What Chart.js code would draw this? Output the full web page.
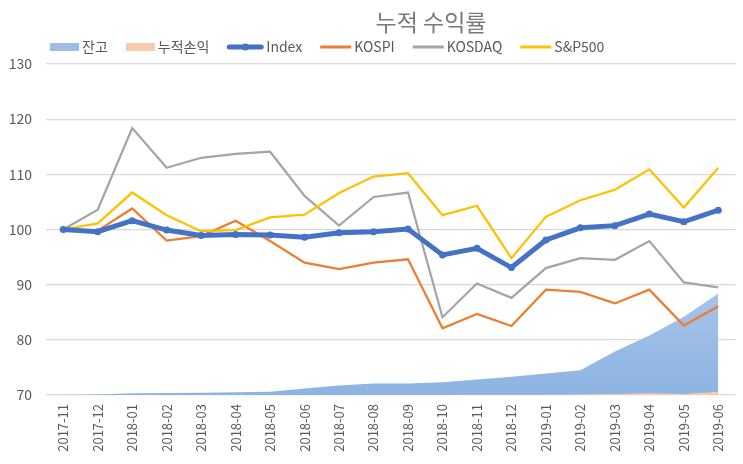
<!DOCTYPE html>
<html>
<head>
<meta charset="utf-8">
<script src="https://cdn.jsdelivr.net/npm/chart.js@4/dist/chart.umd.min.js"></script>
<style>
  html, body { margin: 0; padding: 0; background: #fff; }
  #wrap { width: 743px; height: 464px; }
</style>
</head>
<body>
<div id="wrap"><canvas id="c" width="743" height="464"></canvas></div>
<script>
const categories = ['2017-11','2017-12','2018-01','2018-02','2018-03','2018-04','2018-05','2018-06','2018-07','2018-08','2018-09','2018-10','2018-11','2018-12','2019-01','2019-02','2019-03','2019-04','2019-05','2019-06'];
const indexValues  = [100, 99.6, 101.6, 99.9, 98.9, 99.1, 99.0, 98.6, 99.4, 99.6, 100.1, 95.4, 96.6, 93.1, 98.1, 100.3, 100.7, 102.8, 101.4, 103.5];
const kospiValues  = [100, 99.8, 103.8, 98.0, 98.8, 101.6, 97.9, 94.0, 92.8, 94.0, 94.6, 82.1, 84.7, 82.5, 89.1, 88.7, 86.6, 89.1, 82.6, 86.1];
const kosdaqValues = [100, 103.6, 118.4, 111.2, 113.0, 113.7, 114.1, 106.1, 100.7, 105.9, 106.7, 84.1, 90.2, 87.6, 93.0, 94.8, 94.5, 97.9, 90.4, 89.5];
const sp500Values  = [100, 101.1, 106.7, 102.6, 99.7, 99.9, 102.2, 102.7, 106.6, 109.6, 110.2, 102.6, 104.3, 94.8, 102.3, 105.3, 107.2, 110.9, 104.0, 111.2];
const balanceValues = [70.0, 70.1, 70.3, 70.35, 70.4, 70.5, 70.6, 71.2, 71.7, 72.1, 72.1, 72.3, 72.8, 73.3, 73.9, 74.5, 77.9, 80.8, 84.2, 88.4];
const pnlValues     = [70.0, 70.0, 70.0, 70.0, 70.0, 70.0, 70.0, 70.0, 70.0, 70.0, 70.0, 70.0, 70.05, 70.05, 70.05, 70.1, 70.2, 70.3, 70.2, 70.6];
const yTicks = [70, 80, 90, 100, 110, 120, 130];
const titleText = '누적 수익률';

const FONT = "'Noto Sans CJK KR', 'Noto Sans', sans-serif";
const GREY = '#595959';

// legend icon kinds per dataset
const legendKinds = ['rect', 'rect', 'thick', 'line', 'line', 'line'];

const titleLegendPlugin = {
  id: 'titleLegend',
  afterDraw(chart) {
    const ctx = chart.ctx;
    ctx.save();
    // title
    ctx.font = '23px ' + FONT;
    ctx.fillStyle = '#7a7a7a';
    ctx.textAlign = 'center';
    ctx.textBaseline = 'middle';
    ctx.fillText(titleText, 431, 22);
    // legend
    ctx.font = '14px ' + FONT;
    ctx.textAlign = 'left';
    ctx.textBaseline = 'middle';
    const cy = 47;
    let x = 50;
    chart.data.datasets.forEach((ds, i) => {
      const kind = legendKinds[i];
      const color = i === 0 ? '#9dbde6' : (ds.borderColor === 'rgba(0,0,0,0)' ? ds.backgroundColor : ds.borderColor);
      if (kind === 'rect') {
        ctx.fillStyle = color;
        ctx.fillRect(x, cy - 4, 29, 8);
      } else if (kind === 'thick') {
        ctx.strokeStyle = color;
        ctx.lineWidth = 5;
        ctx.lineCap = 'round';
        ctx.beginPath(); ctx.moveTo(x + 2, cy); ctx.lineTo(x + 34, cy); ctx.stroke();
        ctx.fillStyle = color;
        ctx.beginPath(); ctx.arc(x + 18, cy, 3.5, 0, Math.PI * 2); ctx.fill();
      } else {
        ctx.strokeStyle = color;
        ctx.lineWidth = 3;
        ctx.lineCap = 'butt';
        ctx.beginPath(); ctx.moveTo(x, cy); ctx.lineTo(x + 31, cy); ctx.stroke();
      }
      const iconW = kind === 'rect' ? 29 : (kind === 'thick' ? 36 : 31);
      x += iconW + 3;
      ctx.fillStyle = GREY;
      ctx.fillText(ds.label, x, cy);
      x += ctx.measureText(ds.label).width + 18;
    });
    ctx.restore();
  }
};

new Chart(document.getElementById('c'), {
  type: 'line',
  data: {
    labels: categories,
    datasets: [
      {
        label: '잔고', data: balanceValues, order: 10,
        fill: 'start', borderWidth: 0, pointRadius: 0, tension: 0,
        borderColor: 'rgba(0,0,0,0)',
        backgroundColor: (c) => {
          const ca = c.chart.chartArea;
          if (!ca) return '#9dbde6';
          const gr = c.chart.ctx.createLinearGradient(0, ca.top + ca.height * 0.6, 0, ca.bottom);
          gr.addColorStop(0, '#adc8ea');
          gr.addColorStop(1, '#8db4e2');
          return gr;
        }
      },
      {
        label: '누적손익', data: pnlValues, order: 9,
        fill: 'start', borderWidth: 0, pointRadius: 0, tension: 0,
        borderColor: 'rgba(0,0,0,0)', backgroundColor: '#f8cbad'
      },
      {
        label: 'Index', data: indexValues, order: 1,
        borderColor: '#4472C4', backgroundColor: '#4472C4', borderWidth: 5,
        pointRadius: 3.5, pointBorderWidth: 0, pointBackgroundColor: '#4472C4',
        fill: false, tension: 0
      },
      {
        label: 'KOSPI', data: kospiValues, order: 4,
        borderColor: '#ED7D31', backgroundColor: '#ED7D31', borderWidth: 2.25,
        pointRadius: 0, fill: false, tension: 0
      },
      {
        label: 'KOSDAQ', data: kosdaqValues, order: 3,
        borderColor: '#A5A5A5', backgroundColor: '#A5A5A5', borderWidth: 2.25,
        pointRadius: 0, fill: false, tension: 0
      },
      {
        label: 'S&P500', data: sp500Values, order: 2,
        borderColor: '#FFC000', backgroundColor: '#FFC000', borderWidth: 2.25,
        pointRadius: 0, fill: false, tension: 0
      }
    ]
  },
  options: {
    responsive: false,
    animation: false,
    devicePixelRatio: 1,
    layout: { padding: { top: 64, left: 0, right: 0, bottom: 0 } },
    plugins: {
      title: { display: false },
      tooltip: { enabled: false },
      legend: { display: false }
    },
    scales: {
      x: {
        type: 'category',
        offset: true,
        grid: { display: false, drawTicks: false },
        border: { display: false },
        ticks: {
          color: GREY, font: { family: FONT, size: 13 },
          maxRotation: 90, minRotation: 90, autoSkip: false, padding: 9
        },
        afterFit: (s) => { s.height = 69; }
      },
      y: {
        min: 70, max: 130,
        afterBuildTicks: (s) => { s.ticks = yTicks.map(v => ({ value: v })); },
        grid: { color: '#d9d9d9', lineWidth: 1.3, drawTicks: false },
        border: { display: false },
        ticks: { color: GREY, font: { family: FONT, size: 14 }, padding: 14 },
        afterFit: (s) => { s.width = 46; }
      }
    }
  },
  plugins: [titleLegendPlugin]
});
</script>
</body>
</html>
